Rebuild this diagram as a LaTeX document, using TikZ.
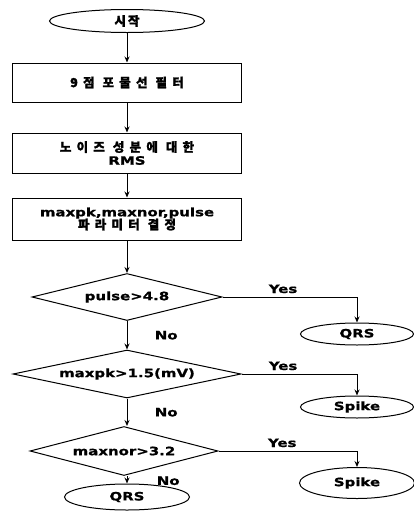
\documentclass[tikz,border=0pt]{standalone}
\usepackage{fontspec}
\setmainfont{DejaVu Sans}[FakeStretch=1.3, BoldFeatures={FakeBold=1}]
\newfontfamily\kr{Noto Sans CJK KR}[LetterSpace=42, FakeBold=1.5]
\newcommand{\wgap}{\hspace{8pt}}
\newcommand{\krfont}{\kr\fontsize{12.5}{15}\selectfont}
\usetikzlibrary{shapes.geometric,arrows.meta}

\begin{document}
\begin{tikzpicture}[x=1pt, y=-1pt, line width=1pt, >={Stealth[length=6pt,width=5pt]},
    font=\bfseries\fontsize{11.5}{14}\selectfont,
    term/.style={draw, ellipse, inner sep=0pt},
    proc/.style={draw, rectangle, minimum width=229pt, inner sep=0pt, align=center},
    dec/.style={draw, diamond, shape aspect=5, inner sep=0pt}]
    \useasboundingbox (0,0) rectangle (414,528);
    % start and preprocessing
    \node[term, minimum width=155pt, minimum height=23pt] (start) at (127,21) {\krfont 시\hspace{2pt}작};
    \node[proc, minimum height=39pt] (filt) at (127,82.5) {\krfont 9점\wgap 포물선\wgap 필터};
    \node[proc, minimum height=40pt] (rms) at (127,153) {{\krfont 노이즈\wgap 성분에\wgap 대한}\\[-1pt]RMS};
    \node[proc, minimum height=42pt] (param) at (127,219) {maxpk,maxnor,pulse\\[-1pt]{\krfont 파라미터\wgap 결정}};
    % decisions
    \node[dec, minimum width=190pt, minimum height=47pt] (d1) at (127,297) {pulse>4.8};
    \node[dec, minimum width=228pt, minimum height=48pt] (d2) at (127,374) {maxpk>1.5(mV)};
    \node[dec, minimum width=188pt, minimum height=49pt] (d3) at (124,451) {maxnor>3.2};
    % outcomes
    \node[term, minimum width=113pt, minimum height=22pt] (qrs1) at (357,334) {QRS};
    \node[term, minimum width=113pt, minimum height=22pt] (spk1) at (357,407) {Spike};
    \node[term, minimum width=115pt, minimum height=31pt] (spk2) at (357,483) {Spike};
    \node[term, minimum width=125pt, minimum height=26pt] (qrs2) at (127,497) {QRS};
    % main flow
    \draw[->] (start) -- (filt);
    \draw[->] (filt) -- (rms);
    \draw[->] (rms) -- (param);
    \draw[->] (param) -- (d1);
    \draw[->] (d1) -- node[right, xshift=24pt] {No} (d2);
    \draw[->] (d2) -- node[right, xshift=24pt] {No} (d3.north -| d2);
    \draw[->] (d3.south -| qrs2) -- node[right, xshift=26pt, yshift=-1pt] {No} (qrs2);
    % yes branches
    \draw[->] (d1.east) -| node[pos=0.225, above] {Yes} (qrs1);
    \draw[->] (d2.east) -| node[pos=0.18, above] {Yes} (spk1);
    \draw[->] (d3.east) -| node[pos=0.23, above] {Yes} (spk2);
\end{tikzpicture}
\end{document}
